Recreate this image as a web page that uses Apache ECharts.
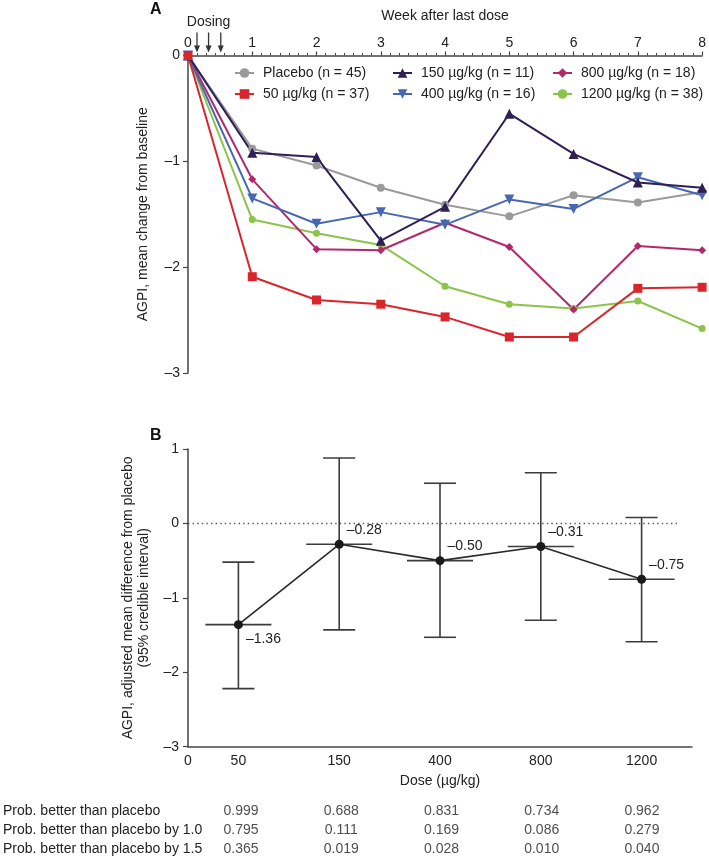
<!DOCTYPE html>
<html>
<head>
<meta charset="utf-8">
<script src="https://cdn.jsdelivr.net/npm/echarts@6/dist/echarts.min.js"></script>
<style>html,body{margin:0;padding:0;background:#fff}#c{width:709px;height:859px}</style>
</head>
<body>
<div id="c"></div>
<script>
// ---------- Panel A data ----------
const weeks = [0, 1, 2, 3, 4, 5, 6, 7, 8];
const placebo = [0, -0.88, -1.04, -1.25, -1.41, -1.52, -1.32, -1.39, -1.29];
const dose50 = [0, -2.09, -2.31, -2.35, -2.47, -2.66, -2.66, -2.20, -2.19];
const dose150 = [0, -0.92, -0.96, -1.75, -1.43, -0.55, -0.93, -1.20, -1.25];
const dose400 = [0, -1.35, -1.59, -1.48, -1.60, -1.36, -1.45, -1.15, -1.32];
const dose800 = [0, -1.17, -1.83, -1.84, -1.58, -1.81, -2.40, -1.80, -1.84];
const dose1200 = [0, -1.55, -1.68, -1.79, -2.18, -2.35, -2.39, -2.32, -2.58];
const seriesNames = ['Placebo (n = 45)', '50 µg/kg (n = 37)', '150 µg/kg (n = 11)', '400 µg/kg (n = 16)', '800 µg/kg (n = 18)', '1200 µg/kg (n = 38)'];
const dosingWeeks = [0.14, 0.32, 0.51];

// ---------- Panel B data ----------
const doseCats = ['50', '150', '400', '800', '1200'];
const diffEst = [-1.36, -0.28, -0.50, -0.31, -0.75];
const ciLow = [-2.22, -1.43, -1.53, -1.30, -1.59];
const ciHigh = [-0.52, 0.88, 0.54, 0.68, 0.08];
const refLineEnd = 4.85; // reference line (y = 0) extent on the 0..5 dose scale

// ---------- Table data ----------
const rowLabels = ['Prob. better than placebo', 'Prob. better than placebo by 1.0', 'Prob. better than placebo by 1.5'];
const probBetter = [0.999, 0.688, 0.831, 0.734, 0.962];
const probBy10 = [0.795, 0.111, 0.169, 0.086, 0.279];
const probBy15 = [0.365, 0.019, 0.028, 0.010, 0.040];

const FONT = "'Liberation Sans', Arial, sans-serif";
const AX = '#454545';
const TXT = '#222';
const minus = v => (v < 0 ? '\u2013' + Math.abs(v) : String(v));
const minusFixed = (v, d) => (v < 0 ? '\u2013' + Math.abs(v).toFixed(d) : v.toFixed(d));

const chart = echarts.init(document.getElementById('c'), null, {renderer: 'canvas'});

const styleA = [
  {data: placebo, color: '#9a9a9a', symbol: 'circle', size: 8, rot: 0},
  {data: dose50, color: '#d9262c', symbol: 'rect', size: 9, rot: 0},
  {data: dose150, color: '#2e1f55', symbol: 'triangle', size: 10, rot: 0},
  {data: dose400, color: '#4767b3', symbol: 'triangle', size: 10, rot: 180},
  {data: dose800, color: '#b3286c', symbol: 'diamond', size: 8, rot: 0},
  {data: dose1200, color: '#8cc34a', symbol: 'circle', size: 7, rot: 0}
];
const drawOrder = [0, 5, 4, 3, 2, 1];

const seriesA = drawOrder.map(i => {
  const s = styleA[i];
  return {
    name: seriesNames[i], type: 'line', xAxisIndex: 0, yAxisIndex: 0,
    data: weeks.map((w, k) => [w, s.data[k]]),
    symbol: s.symbol, symbolSize: s.size, symbolRotate: s.rot, showAllSymbol: true,
    lineStyle: {color: s.color, width: 2}, itemStyle: {color: s.color},
    z: 3, clip: false, animation: false
  };
});

const dosingSeries = {
  type: 'custom', xAxisIndex: 0, yAxisIndex: 0, clip: false, silent: true, z: 5,
  data: dosingWeeks.map((w, i) => [w, 0, i]),
  renderItem: (params, api) => {
    const p = api.coord([api.value(0), 0]);
    const x = p[0], yTip = p[1] - 3, yTop = p[1] - 23;
    const children = [
      {type: 'line', shape: {x1: x, y1: yTop, x2: x, y2: yTip - 5}, style: {stroke: '#333', lineWidth: 1.3}},
      {type: 'polygon', shape: {points: [[x - 3, yTip - 7], [x + 3, yTip - 7], [x, yTip]]}, style: {fill: '#333'}}
    ];
    if (api.value(2) === 1) {
      children.push({type: 'text', style: {text: 'Dosing', x: x, y: p[1] - 33, align: 'center', verticalAlign: 'middle', fontSize: 14, fontFamily: FONT, fill: TXT}});
    }
    return {type: 'group', children};
  }
};

const errSeries = {
  type: 'custom', xAxisIndex: 1, yAxisIndex: 1, z: 3,
  data: doseCats.map((c, i) => [i, ciLow[i], ciHigh[i], diffEst[i]]),
  renderItem: (params, api) => {
    const i = api.value(0);
    const hi = api.coord([i, api.value(2)]);
    const lo = api.coord([i, api.value(1)]);
    const md = api.coord([i, api.value(3)]);
    const st = {stroke: '#3c3c3c', lineWidth: 1.6};
    return {type: 'group', children: [
      {type: 'line', shape: {x1: hi[0], y1: hi[1], x2: lo[0], y2: lo[1]}, style: st},
      {type: 'line', shape: {x1: hi[0] - 16, y1: hi[1], x2: hi[0] + 16, y2: hi[1]}, style: st},
      {type: 'line', shape: {x1: lo[0] - 16, y1: lo[1], x2: lo[0] + 16, y2: lo[1]}, style: st},
      {type: 'line', shape: {x1: md[0] - 33, y1: md[1], x2: md[0] + 33, y2: md[1]}, style: st}
    ]};
  }
};

const zeroLineSeries = {
  type: 'custom', xAxisIndex: 2, yAxisIndex: 1, z: 2, silent: true,
  data: [[0, refLineEnd, 0]],
  renderItem: (params, api) => {
    const a = api.coord([api.value(0), api.value(2)]);
    const b = api.coord([api.value(1), api.value(2)]);
    return {type: 'line', shape: {x1: a[0], y1: a[1], x2: b[0], y2: b[1]},
      style: {stroke: '#555', lineWidth: 1.4, lineDash: [1.4, 3.2]}};
  }
};

const estSeries = {
  type: 'line', xAxisIndex: 1, yAxisIndex: 1, z: 4,
  data: diffEst.map((v, i) => ({
    value: [i, v],
    label: {show: true, position: 'right', distance: 3, offset: [0, i === 0 ? 14 : -14],
      formatter: () => minusFixed(v, 2), fontSize: 14, fontFamily: FONT, color: TXT}
  })),
  symbol: 'circle', symbolSize: 9,
  lineStyle: {color: '#2a2a2a', width: 1.6}, itemStyle: {color: '#1a1a1a'}
};

const tableRows = [probBetter, probBy10, probBy15];
const tableSeries = {
  type: 'scatter', xAxisIndex: 3, yAxisIndex: 2, symbolSize: 1,
  itemStyle: {color: 'rgba(0,0,0,0)'},
  data: [].concat(...tableRows.map((row, r) => row.map((v, c) => [c, r, v]))),
  label: {show: true, position: 'inside', formatter: p => p.value[2].toFixed(3), fontSize: 14, fontFamily: FONT, color: TXT}
};

const legendBase = {
  orient: 'vertical', itemWidth: 19, itemHeight: 12, itemGap: 7,
  textStyle: {fontSize: 14, fontFamily: FONT, color: TXT, padding: [0, 0, 0, 4]},
  selectedMode: false
};

chart.setOption({
  animation: false,
  textStyle: {fontFamily: FONT},
  grid: [
    {left: 188, top: 55.5, width: 517, height: 317.5},
    {left: 188, top: 449, width: 504, height: 297.7},
    {left: 188, top: 801, width: 504, height: 58}
  ],
  legend: [
    Object.assign({}, legendBase, {left: 229, top: 61, data: [seriesNames[0], seriesNames[1]]}),
    Object.assign({}, legendBase, {left: 387, top: 61, data: [seriesNames[2], seriesNames[3]]}),
    Object.assign({}, legendBase, {left: 547, top: 61, data: [seriesNames[4], seriesNames[5]]})
  ],
  xAxis: [
    {type: 'value', gridIndex: 0, position: 'top', min: 0, max: 8, interval: 1,
      name: 'Week after last dose', nameLocation: 'middle', nameGap: 32,
      nameTextStyle: {fontSize: 14, color: TXT},
      axisLine: {onZero: false, lineStyle: {color: AX, width: 1.5}},
      axisTick: {length: 4, lineStyle: {color: AX, width: 1.2}},
      minorTick: {show: true, splitNumber: 7, length: 2.5, lineStyle: {color: AX, width: 1}},
      axisLabel: {fontSize: 14, color: TXT, margin: 5},
      splitLine: {show: false}},
    {type: 'category', gridIndex: 1, data: doseCats, boundaryGap: true, position: 'bottom',
      name: 'Dose (µg/kg)', nameLocation: 'middle', nameGap: 27,
      nameTextStyle: {fontSize: 14, color: TXT},
      axisLine: {onZero: false, lineStyle: {color: AX, width: 1.5}},
      axisTick: {alignWithLabel: true, length: 4, lineStyle: {color: AX, width: 1.2}},
      axisLabel: {fontSize: 14, color: TXT, margin: 7},
      splitLine: {show: false}},
    {type: 'value', gridIndex: 1, position: 'bottom', min: 0, max: 5, interval: 5,
      axisLine: {show: false, onZero: false}, axisTick: {show: false}, splitLine: {show: false},
      axisLabel: {fontSize: 14, color: TXT, margin: 7, formatter: v => (v === 0 ? '0' : '')}},
    {type: 'category', gridIndex: 2, data: doseCats, boundaryGap: true, show: false,
      axisLine: {show: false, onZero: false}}
  ],
  yAxis: [
    {type: 'value', gridIndex: 0, min: -3, max: 0, interval: 1,
      name: 'AGPI, mean change from baseline', nameLocation: 'middle', nameGap: 38,
      nameTextStyle: {fontSize: 14, color: TXT},
      axisLine: {show: true, onZero: false, lineStyle: {color: AX, width: 1.5}},
      axisTick: {show: true, length: 5, lineStyle: {color: AX, width: 1.2}},
      axisLabel: {fontSize: 14, color: TXT, margin: 8, formatter: minus},
      splitLine: {show: false}},
    {type: 'value', gridIndex: 1, min: -3, max: 1, interval: 1,
      name: 'AGPI, adjusted mean difference from placebo\n(95% credible interval)', nameLocation: 'middle', nameGap: 32,
      nameTextStyle: {fontSize: 14, color: TXT, lineHeight: 16},
      axisLine: {show: true, onZero: false, lineStyle: {color: AX, width: 1.5}},
      axisTick: {show: true, length: 5, lineStyle: {color: AX, width: 1.2}},
      axisLabel: {fontSize: 14, color: TXT, margin: 9, formatter: minus},
      splitLine: {show: false}},
    {type: 'category', gridIndex: 2, data: rowLabels, inverse: true,
      axisLine: {show: false, onZero: false}, axisTick: {show: false}, splitLine: {show: false},
      axisLabel: {fontSize: 14, color: TXT, align: 'left', margin: 188}}
  ],
  graphic: [
    {type: 'text', left: 150, top: 2, style: {text: 'A', fontSize: 16, fontWeight: 'bold', fontFamily: FONT, fill: '#111'}},
    {type: 'text', left: 150, top: 428, style: {text: 'B', fontSize: 16, fontWeight: 'bold', fontFamily: FONT, fill: '#111'}}
  ],
  series: [dosingSeries].concat(seriesA, [zeroLineSeries, errSeries, estSeries, tableSeries])
});
</script>
</body>
</html>
